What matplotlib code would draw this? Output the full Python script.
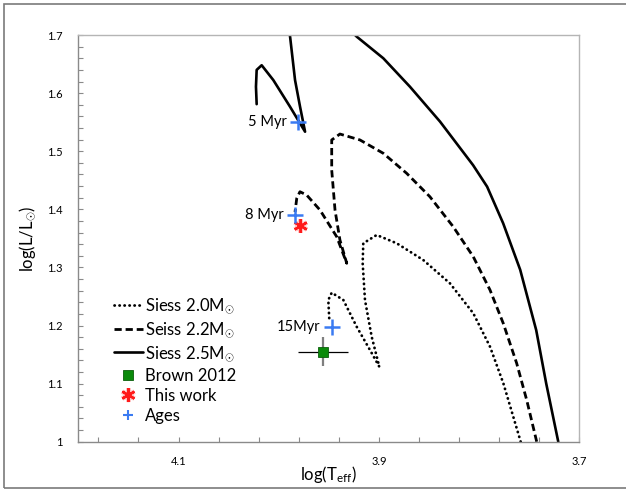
import matplotlib
matplotlib.use("Agg")
import matplotlib.pyplot as plt
import matplotlib.patheffects as pe
from matplotlib.patches import Rectangle
from matplotlib.ticker import FixedLocator, NullFormatter
import numpy as np

plt.rcParams["font.family"] = ["Lato", "DejaVu Sans"]
plt.rcParams["mathtext.fontset"] = "custom"
plt.rcParams["mathtext.rm"] = "Lato"
plt.rcParams["mathtext.it"] = "Lato:italic"

# Siess evolutionary tracks (nan = track leaves the view)
teff_20 = [3.7585, 3.7659, 3.7758, 3.7891, 3.8058, 3.8291, 3.8557, 3.8822, 3.9022,
           3.9156, 3.9162, 3.9139, 3.9072, 3.8996, 3.9089, 3.9222, 3.9355, 3.9471,
           3.9505, 3.9495]
lum_20 = [1.000, 1.043, 1.1005, 1.1635, 1.221, 1.2726, 1.3127, 1.3415, 1.3558,
          1.3415, 1.3071, 1.2439, 1.1807, 1.1291, 1.1578, 1.198, 1.2439, 1.2565,
          1.2439, 1.2095]

teff_22 = [3.7425, 3.7525, 3.7625, 3.7759, 3.7891, 3.8058, 3.8258, 3.8491, 3.8723,
           3.8956, 3.9189, 3.9389, 3.9471, 3.9471, 3.9438, 3.9389, 3.9321, 3.9421,
           3.9588, 3.9721, 3.9788, 3.9820, 3.9837]
lum_22 = [1.000, 1.0718, 1.135, 1.2038, 1.2611, 1.3184, 1.370, 1.4217, 1.462,
          1.4964, 1.5194, 1.5296, 1.5194, 1.4676, 1.3988, 1.3472, 1.3071, 1.3528,
          1.3988, 1.4246, 1.4303, 1.4189, 1.3954]

teff_25 = [3.721, 3.733, 3.743, 3.759, 3.776, 3.792, 3.806, 3.839, 3.869, 3.8956,
           3.922, 3.925, np.nan, 3.9895, 3.9887, 3.9837, 3.9787, 3.9737, 3.9887,
           4.0054, 4.017, 4.022, 4.0227, 4.022]
lum_25 = [1.000, 1.100, 1.192, 1.296, 1.376, 1.439, 1.476, 1.551, 1.611, 1.660,
          1.697, 1.702, np.nan, 1.702, 1.698, 1.6225, 1.5766, 1.5336, 1.5766,
          1.6225, 1.648, 1.640, 1.611, 1.581]

# observations
brown_teff, brown_lum = 3.9555, 1.1549
brown_teff_err, brown_lum_err = 0.025, 0.025
this_teff, this_lum = 3.978, 1.3713

age_teff = [3.9804, 3.9837, 3.9471]
age_lum = [1.5508, 1.3902, 1.198]
age_labels = ["5 Myr", "8 Myr", "15Myr"]

fig = plt.figure(figsize=(6.26, 4.92), dpi=100)
ax = fig.add_axes([0.1251, 0.1022, 0.8003, 0.8266])

fig.patches.append(Rectangle((4 / 626, 4 / 492), 1.0, 484 / 492, transform=fig.transFigure,
                             fill=False, edgecolor="#7a7a7a", lw=1.2))

ax.plot(teff_20, lum_20, color="black", lw=2.0, linestyle=(0, (0.1, 1.7)),
        dash_capstyle="round", label=r"Siess 2.0M$_{\odot}$")
ax.plot(teff_22, lum_22, color="black", lw=2.0, linestyle=(0, (2.6, 1.4)),
        label=r"Seiss 2.2M$_{\odot}$")
ax.plot(teff_25, lum_25, color="black", lw=1.9, solid_capstyle="round",
        label=r"Siess 2.5M$_{\odot}$")

ax.errorbar(brown_teff, brown_lum, xerr=brown_teff_err, fmt="none", ecolor="black",
            elinewidth=0.9, capsize=0)
ax.errorbar(brown_teff, brown_lum, yerr=brown_lum_err, fmt="none", ecolor="#7f7f7f",
            elinewidth=1.6, capsize=0)
ax.plot(brown_teff, brown_lum, linestyle="none", marker="s", ms=7.5, color="#0a8a0a",
        mec="#0b5e0b", mew=0.6, label="Brown 2012")
ax.plot(this_teff, this_lum, linestyle="none", marker=(6, 2, 0), ms=10, color="#ff1a1a",
        mew=1.7, label="This work",
        path_effects=[pe.withStroke(linewidth=3.2, foreground="#ffc4c4")])
ax.plot(age_teff, age_lum, linestyle="none", marker="+", ms=11, mew=1.8,
        color="#3a7bf2", label="Ages")

for t, l, s in zip(age_teff, age_lum, age_labels):
    ax.annotate(s, (t, l), xytext=(-8, 0), textcoords="offset points",
                ha="right", va="center", fontsize=10.5)

ax.set_xlim(4.2, 3.7)
ax.set_ylim(1.0, 1.7)

ax.xaxis.set_major_locator(FixedLocator([4.1, 3.9, 3.7]))
ax.xaxis.set_minor_locator(FixedLocator([4.18, 4.14, 4.06, 4.02, 3.98, 3.94,
                                         3.86, 3.82, 3.78, 3.74]))
ax.set_xticklabels(["4.1", "3.9", "3.7"])
ax.yaxis.set_major_locator(FixedLocator([1.0, 1.1, 1.2, 1.3, 1.4, 1.5, 1.6, 1.7]))
ax.yaxis.set_minor_locator(FixedLocator(np.round(np.arange(1.02, 1.7, 0.02), 2)))
ax.yaxis.set_minor_formatter(NullFormatter())
ax.set_yticklabels(["1", "1.1", "1.2", "1.3", "1.4", "1.5", "1.6", "1.7"])

ax.tick_params(which="both", direction="in", color="#8a8a8a", labelsize=8,
               labelcolor="black")
ax.tick_params(which="major", length=3.5, width=0.8)
ax.tick_params(which="minor", length=3.5, width=0.8)
ax.tick_params(axis="x", which="major", pad=10)
ax.tick_params(axis="y", which="major", pad=11)

for side in ["left", "bottom"]:
    ax.spines[side].set_color("#8a8a8a")
    ax.spines[side].set_linewidth(1.0)
for side in ["top", "right"]:
    ax.spines[side].set_color("#b5b5b5")
    ax.spines[side].set_linewidth(1.0)

ax.set_xlabel(r"log(T$_{\mathrm{eff}}$)", fontsize=12, labelpad=-2)
ax.set_ylabel(r"log(L/L$_{\odot}$)", fontsize=12, labelpad=7)

leg = ax.legend(loc="upper left", bbox_to_anchor=(0.055, 0.378), frameon=False,
                fontsize=12, handlelength=1.7, handletextpad=0.15,
                labelspacing=0.25, borderpad=0)
leg.legend_handles[5].set_markersize(7)
leg.legend_handles[5].set_markeredgewidth(1.5)

fig.savefig("out.png", dpi=100)
